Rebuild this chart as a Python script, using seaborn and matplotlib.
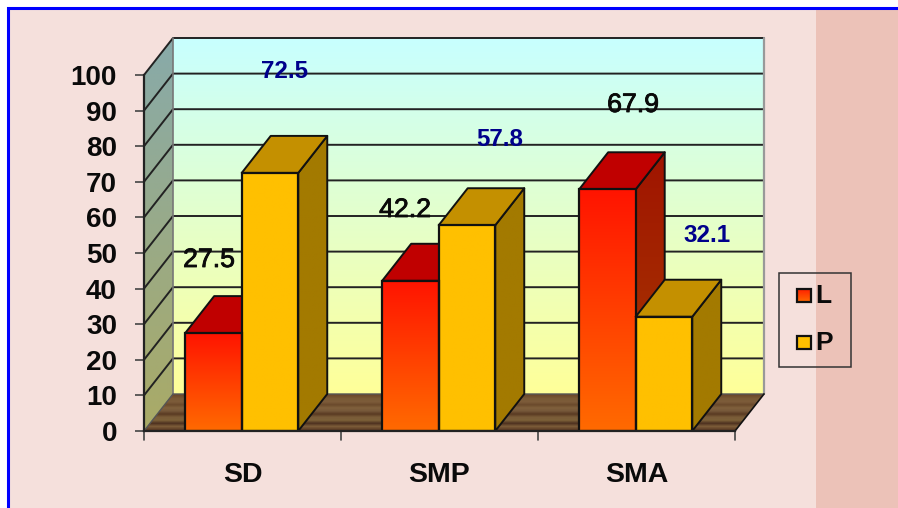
import numpy as np
import pandas as pd
import matplotlib
matplotlib.use("Agg")
import matplotlib.pyplot as plt
import matplotlib.patheffects as pe
import seaborn as sns
from matplotlib.colors import LinearSegmentedColormap, to_rgb
from matplotlib.patches import Polygon, Rectangle

categories = ["SD", "SMP", "SMA"]
series_names = ["L", "P"]
values_l = [27.5, 42.2, 67.9]
values_p = [72.5, 57.8, 32.1]
y_ticks = list(range(0, 101, 10))

W, H = 898, 508
PAGE = "#f5e0dc"
BAND = "#ecc2b8"
INK = "#111111"
NAVY = "#00008b"
DX_PX, DY_PX = 29, 37        # oblique depth of the pseudo-3D box, in pixels
LEFT, RIGHT, BOTTOM, TOP = 144, 735, 431, 75

sns.set_theme(style="white")
plt.rcParams["font.family"] = ["Liberation Sans", "DejaVu Sans"]

fig = plt.figure(figsize=(W / 100, H / 100), dpi=100, facecolor="white")

# Page background, side band and blue frame live in pixel coordinates.
page = fig.add_axes([0, 0, 1, 1], zorder=0)
page.set_xlim(0, W)
page.set_ylim(H, 0)
page.axis("off")
page.add_patch(Rectangle((8, 8), W, H, fc=PAGE, ec="none"))
page.add_patch(Rectangle((816, 8), W - 816, H, fc=BAND, ec="none"))
page.plot([7.5, 7.5, W], [H, 7.5, 7.5], color="#0000ff", lw=2.2, solid_joinstyle="miter")

ax = fig.add_axes([LEFT / W, 1 - BOTTOM / H, (RIGHT - LEFT) / W, (BOTTOM - TOP) / H],
                  zorder=1)
ax.patch.set_alpha(0)

frame = pd.DataFrame({
    "group": categories * 2,
    "series": [series_names[0]] * 3 + [series_names[1]] * 3,
    "value": values_l + values_p,
})
sns.barplot(data=frame, x="group", y="value", hue="series", order=categories,
            hue_order=series_names, palette=["#ff4000", "#ffc000"], width=0.574,
            gap=0, dodge=True, saturation=1, legend=False, ax=ax, zorder=6)
ax.set_xlim(-0.5, 2.5)
ax.set_ylim(0, 100)
ax.set_xlabel("")
ax.set_ylabel("")

unit_x = (RIGHT - LEFT) / 3
unit_y = (BOTTOM - TOP) / 100
dx, dy = DX_PX / unit_x, DY_PX / unit_y


def vgrad(top, bottom, n=128):
    cmap = LinearSegmentedColormap.from_list("v", [top, bottom])
    return cmap(np.linspace(0, 1, n))[:, None, :]


def poly(points, **kw):
    kw.setdefault("clip_on", False)
    patch = Polygon(points, closed=True, **kw)
    ax.add_patch(patch)
    return patch


def fill_clipped(image, extent, clip, zorder):
    art = ax.imshow(image, extent=extent, aspect="auto", zorder=zorder,
                    interpolation="bilinear")
    art.set_clip_box(fig.bbox)
    art.set_clip_path(clip)


# Back wall, side wall and wooden floor of the box.
x0, x1 = -0.5, 2.5
wall = poly([(x0 + dx, dy), (x1 + dx, dy), (x1 + dx, 100 + dy), (x0 + dx, 100 + dy)],
            fc="none", ec="none", zorder=1)
fill_clipped(vgrad("#c8ffff", "#ffff99"), (x0 + dx, x1 + dx, dy, 100 + dy), wall, 1)
side = poly([(x0, 0), (x0 + dx, dy), (x0 + dx, 100 + dy), (x0, 100)],
            fc="none", ec="none", zorder=1)
fill_clipped(vgrad("#88aaaa", "#aaaa66"), (x0, x0 + dx, 0, 100 + dy), side, 1)

plank_colours = ["#6e4a2c", "#7a5a36", "#7d5c3a", "#6b4a2c", "#80603c", "#76583a",
                 "#5a3a22", "#7a5c38", "#7c6038", "#4e3220", "#7c5c38", "#5e3e26"]
floor = poly([(x0, 0), (x1, 0), (x1 + dx, dy), (x0 + dx, dy)], fc="none", ec="none", zorder=1)
planks = np.array([to_rgb(c) for c in plank_colours])[:, None, :]
fill_clipped(planks, (x0, x1 + dx, 0, dy), floor, 1)

ax.set_xlim(-0.5, 2.5)
ax.set_ylim(0, 100)

# Outlines and gridlines of the box.
for tick in y_ticks[1:]:
    ax.plot([x0, x0 + dx, x1 + dx], [tick, tick + dy, tick + dy], color="#222222", lw=1.4,
            clip_on=False, zorder=2)
ax.plot([x0 + dx, x0 + dx], [dy, 100 + dy], color="#777777", lw=1.2, clip_on=False, zorder=2)
ax.plot([x1 + dx, x1 + dx], [dy, 100 + dy], color="#999999", lw=1.6, clip_on=False, zorder=2)
ax.plot([x0, x0 + dx, x1 + dx], [0, dy, dy], color="#555555", lw=1.0, clip_on=False, zorder=2)
ax.plot([x1, x1 + dx], [0, dy], color=INK, lw=1.2, clip_on=False, zorder=2)

# Each bar gets a gradient front plus shaded top and side faces.
face_styles = {
    "L": (("#ff1400", "#ff6a00"), "#c00000", ("#a01400", "#a83c00")),
    "P": (("#ffc000", "#ffc000"), "#c49000", ("#a37a00", "#a37a00")),
}
bars = [b for b in ax.patches if isinstance(b, Rectangle) and b.get_height() > 0]
bars = sorted(bars, key=lambda b: b.get_x())
labels = [series_names[i % 2] for i in range(6)]
for bar, name in zip(bars, labels):
    bar.set_x(bar.get_x() - 0.004)
    bx, bw, bh = bar.get_x(), bar.get_width(), bar.get_height()
    front, top_c, side_c = face_styles[name]
    z = 6 + 0.1 * bx
    bar.set_facecolor("none")
    bar.set_edgecolor(INK)
    bar.set_linewidth(1.6)
    bar.set_zorder(z + 0.05)
    clip = poly([(bx, 0), (bx + bw, 0), (bx + bw, bh), (bx, bh)], fc="none", ec="none", zorder=z)
    fill_clipped(vgrad(*front), (bx, bx + bw, 0, bh), clip, z)
    poly([(bx, bh), (bx + dx, bh + dy), (bx + bw + dx, bh + dy), (bx + bw, bh)],
         fc=top_c, ec=INK, lw=1.4, zorder=z - 0.01, joinstyle="round")
    shade = poly([(bx + bw, 0), (bx + bw + dx, dy), (bx + bw + dx, bh + dy), (bx + bw, bh)],
                 fc="none", ec="none", zorder=z - 0.02)
    fill_clipped(vgrad(*side_c), (bx + bw, bx + bw + dx, 0, bh + dy), shade, z - 0.02)
    poly([(bx + bw, 0), (bx + bw + dx, dy), (bx + bw + dx, bh + dy), (bx + bw, bh)],
         fc="none", ec=INK, lw=1.4, zorder=z - 0.015, joinstyle="round")
ax.set_xlim(-0.5, 2.5)
ax.set_ylim(0, 100)

# Axes: ticks sit outside the box, and category ticks mark the group boundaries.
for s in ("top", "right"):
    ax.spines[s].set_visible(False)
for s in ("left", "bottom"):
    ax.spines[s].set_color("#222222")
    ax.spines[s].set_linewidth(1.6)
    ax.spines[s].set_zorder(8)
ax.set_yticks(y_ticks)
ax.set_xticks(range(3))
ax.set_xticklabels(categories)
ax.tick_params(axis="y", length=6.5, width=1.2, color="#444444", pad=13, labelsize=20, left=True)
ax.tick_params(axis="x", length=0, pad=22, labelsize=20.5)
for label in ax.get_xticklabels():
    label.set_fontweight("bold")
    label.set_color("#0a0a0a")
for label in ax.get_yticklabels():
    label.set_fontweight("bold")
    label.set_color("#0a0a0a")
for boundary in (-0.5, 0.5, 1.5, 2.5):
    ax.plot([boundary, boundary], [0, -2.5], color="#444444", lw=1.2, clip_on=False, zorder=8)

# Overlay in pixel coordinates for the floating value labels and the legend.
top_layer = fig.add_axes([0, 0, 1, 1], zorder=3)
top_layer.axis("off")

label_spots_l = [(209, 260), (405, 210), (633, 105)]
label_spots_p = [(284, 72), (500, 139), (707, 236)]
for val, (px, py) in zip(values_l, label_spots_l):
    top_layer.text(px, py, f"{val}", color="#0a0a0a", ha="center", va="center", fontsize=19.2,
                   zorder=9,
                   path_effects=[pe.withStroke(linewidth=0.6, foreground="#0a0a0a")])
for val, (px, py) in zip(values_p, label_spots_p):
    top_layer.text(px, py, f"{val}", color=NAVY, ha="center", va="center", fontsize=17.4,
                   fontweight="bold", zorder=9)

# Legend drawn by hand with square swatches.
top_layer.add_patch(Rectangle((779, 273), 72, 94, fc="none", ec="#333333", lw=1.1))
top_layer.imshow(vgrad("#ff2000", "#ff6a00"), extent=(797, 811, 302, 289), aspect="auto", zorder=2)
top_layer.add_patch(Rectangle((797, 289), 14, 13, fc="none", ec=INK, lw=1.6, zorder=3))
top_layer.add_patch(Rectangle((797, 336), 14, 13, fc="#ffc000", ec=INK, lw=1.6, zorder=3))
top_layer.set_xlim(0, W)
top_layer.set_ylim(H, 0)
top_layer.text(815, 296, series_names[0], fontsize=19, fontweight="bold", color="#0a0a0a", va="center")
top_layer.text(815, 343, series_names[1], fontsize=19, fontweight="bold", color="#0a0a0a", va="center")

fig.savefig("out.png", dpi=100)
